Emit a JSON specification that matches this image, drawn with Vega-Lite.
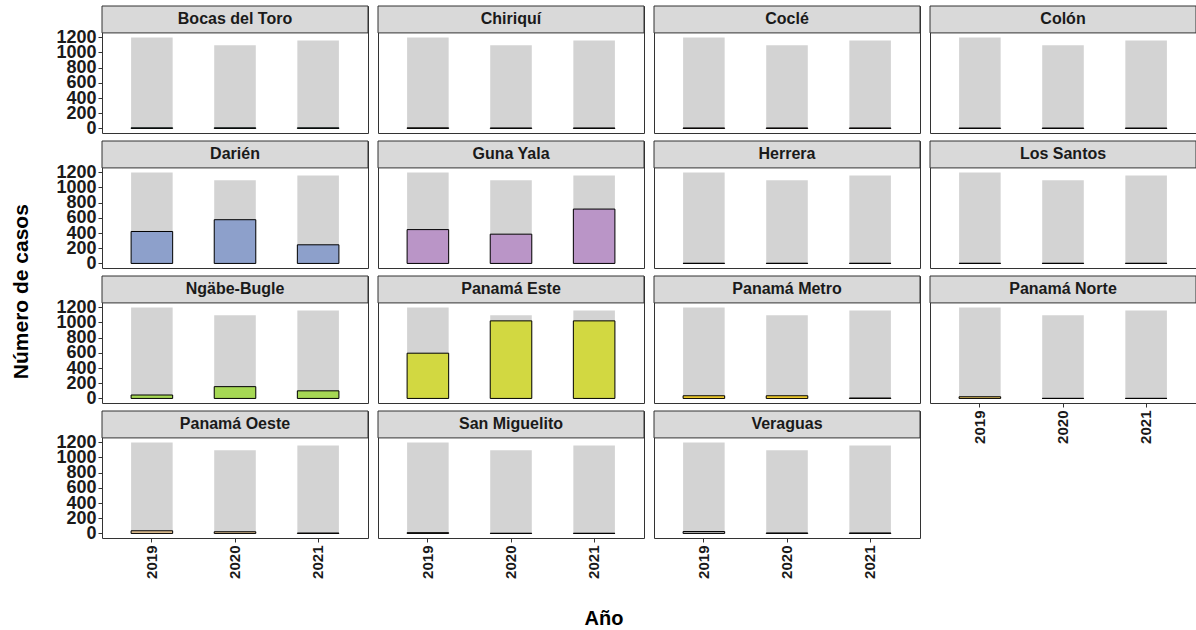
{
  "$schema": "https://vega.github.io/schema/vega-lite/v6.json",
  "background": "white",
  "padding": {"left": 10, "top": 5, "right": 3, "bottom": 3},
  "config": {"font": "Liberation Sans", "view": {"stroke": "#333333", "strokeWidth": 1}, "axis": {"labelOverlap": false, "labelBound": false}, "axisY": {"labelOverlap": false, "labelSeparation": -8}, "axisQuantitative": {"labelOverlap": false}},
  "datasets": {
    "d": [
      {"region": "Bocas del Toro", "year": "2019", "casos": 8, "total": 1195},
      {"region": "Bocas del Toro", "year": "2020", "casos": 8, "total": 1095},
      {"region": "Bocas del Toro", "year": "2021", "casos": 8, "total": 1157},
      {"region": "Chiriquí", "year": "2019", "casos": 8, "total": 1195},
      {"region": "Chiriquí", "year": "2020", "casos": 6, "total": 1095},
      {"region": "Chiriquí", "year": "2021", "casos": 6, "total": 1157},
      {"region": "Coclé", "year": "2019", "casos": 6, "total": 1195},
      {"region": "Coclé", "year": "2020", "casos": 6, "total": 1095},
      {"region": "Coclé", "year": "2021", "casos": 6, "total": 1157},
      {"region": "Colón", "year": "2019", "casos": 5, "total": 1195},
      {"region": "Colón", "year": "2020", "casos": 5, "total": 1095},
      {"region": "Colón", "year": "2021", "casos": 5, "total": 1157},
      {"region": "Darién", "year": "2019", "casos": 420, "total": 1195},
      {"region": "Darién", "year": "2020", "casos": 575, "total": 1095},
      {"region": "Darién", "year": "2021", "casos": 245, "total": 1157},
      {"region": "Guna Yala", "year": "2019", "casos": 445, "total": 1195},
      {"region": "Guna Yala", "year": "2020", "casos": 385, "total": 1095},
      {"region": "Guna Yala", "year": "2021", "casos": 715, "total": 1157},
      {"region": "Herrera", "year": "2019", "casos": 2, "total": 1195},
      {"region": "Herrera", "year": "2020", "casos": 2, "total": 1095},
      {"region": "Herrera", "year": "2021", "casos": 2, "total": 1157},
      {"region": "Los Santos", "year": "2019", "casos": 2, "total": 1195},
      {"region": "Los Santos", "year": "2020", "casos": 2, "total": 1095},
      {"region": "Los Santos", "year": "2021", "casos": 2, "total": 1157},
      {"region": "Ngäbe-Bugle", "year": "2019", "casos": 45, "total": 1195},
      {"region": "Ngäbe-Bugle", "year": "2020", "casos": 155, "total": 1095},
      {"region": "Ngäbe-Bugle", "year": "2021", "casos": 100, "total": 1157},
      {"region": "Panamá Este", "year": "2019", "casos": 595, "total": 1195},
      {"region": "Panamá Este", "year": "2020", "casos": 1020, "total": 1095},
      {"region": "Panamá Este", "year": "2021", "casos": 1020, "total": 1157},
      {"region": "Panamá Metro", "year": "2019", "casos": 35, "total": 1195},
      {"region": "Panamá Metro", "year": "2020", "casos": 35, "total": 1095},
      {"region": "Panamá Metro", "year": "2021", "casos": 5, "total": 1157},
      {"region": "Panamá Norte", "year": "2019", "casos": 22, "total": 1195},
      {"region": "Panamá Norte", "year": "2020", "casos": 1, "total": 1095},
      {"region": "Panamá Norte", "year": "2021", "casos": 1, "total": 1157},
      {"region": "Panamá Oeste", "year": "2019", "casos": 35, "total": 1195},
      {"region": "Panamá Oeste", "year": "2020", "casos": 22, "total": 1095},
      {"region": "Panamá Oeste", "year": "2021", "casos": 5, "total": 1157},
      {"region": "San Miguelito", "year": "2019", "casos": 10, "total": 1195},
      {"region": "San Miguelito", "year": "2020", "casos": 2, "total": 1095},
      {"region": "San Miguelito", "year": "2021", "casos": 2, "total": 1157},
      {"region": "Veraguas", "year": "2019", "casos": 25, "total": 1195},
      {"region": "Veraguas", "year": "2020", "casos": 6, "total": 1095},
      {"region": "Veraguas", "year": "2021", "casos": 6, "total": 1157}
    ]
  },
  "title": {"text": "Año", "orient": "bottom", "fontSize": 20, "fontWeight": "bold", "color": "#000000", "anchor": "middle", "offset": 31},
  "vconcat": [
    {
      "title": {"text": "Número de casos", "orient": "left", "fontSize": 21, "fontWeight": "bold", "color": "#000000", "anchor": "middle", "offset": 24},
      "spacing": 8,
      "hconcat": [
        {
          "data": {"name": "d"},
          "transform": [{"filter": {"field": "region", "oneOf": ["Bocas del Toro", "Darién", "Ngäbe-Bugle", "Panamá Oeste"]}}],
          "facet": {"row": {"field": "region", "type": "nominal", "sort": ["Bocas del Toro", "Darién", "Ngäbe-Bugle", "Panamá Oeste"], "header": {"title": null, "labels": false}}},
          "spacing": 8,
          "bounds": "flush",
          "spec": {
            "width": 266, "height": 127,
            "layer": [
              {"mark": {"type": "bar", "color": "#D3D3D3"},
               "encoding": {
                 "x": {"field": "year", "type": "ordinal", "title": null, "scale": {"paddingInner": 0.5, "paddingOuter": 0.35},
                       "axis": {"labelAngle": 270, "labelFontSize": 15, "labelFontWeight": "bold", "labelColor": "#1A1A1A", "domain": false, "tickSize": 4, "tickColor": "#333333", "labelPadding": 3}},
                 "y": {"field": "total", "type": "quantitative", "title": null, "scale": {"domain": [-60, 1610], "nice": false, "zero": false},
                       "axis": {"values": [0, 200, 400, 600, 800, 1000, 1200], "format": "d", "labelFontSize": 18, "labelFontWeight": "bold", "labelColor": "#1A1A1A", "domain": false, "grid": false, "tickSize": 4, "tickColor": "#333333", "labelPadding": 2, "labelOverlap": false, "labelSeparation": -8, "labelFlush": false, "labelBound": false}},
                 "y2": {"datum": 0}}},
              {"mark": {"type": "bar", "stroke": "#000000", "strokeWidth": 1},
               "encoding": {
                 "x": {"field": "year", "type": "ordinal", "title": null},
                 "y": {"field": "casos", "type": "quantitative", "title": null,
                       "axis": {"values": [0, 200, 400, 600, 800, 1000, 1200], "format": "d", "labelFontSize": 18, "labelFontWeight": "bold", "labelColor": "#1A1A1A", "domain": false, "grid": false, "tickSize": 4, "tickColor": "#333333", "labelPadding": 2, "labelOverlap": false, "labelSeparation": -8, "labelFlush": false, "labelBound": false}},
                 "y2": {"datum": 0},
                 "color": {"field": "region", "type": "nominal", "legend": null,
                   "scale": {"domain": ["Bocas del Toro", "Chiriquí", "Coclé", "Colón", "Darién", "Guna Yala", "Herrera", "Los Santos", "Ngäbe-Bugle", "Panamá Este", "Panamá Metro", "Panamá Norte", "Panamá Oeste", "San Miguelito", "Veraguas"],
                             "range": ["#66C2A5", "#B1A783", "#FC8D62", "#C49696", "#8DA0CB", "#BA95C7", "#E78AC3", "#C6B18C", "#A6D854", "#D2D841", "#FFD92F", "#F2CE61", "#E5C494", "#CCBBA3", "#B3B3B3"]}}}},
              {"transform": [{"filter": "datum.year == '2019'"}],
               "mark": {"type": "rect", "fill": "#D9D9D9", "stroke": "#333333", "strokeWidth": 1},
               "encoding": {"y": {"datum": 1256, "type": "quantitative", "title": null,
                       "axis": {"values": [0, 200, 400, 600, 800, 1000, 1200], "format": "d", "labelFontSize": 18, "labelFontWeight": "bold", "labelColor": "#1A1A1A", "domain": false, "grid": false, "tickSize": 4, "tickColor": "#333333", "labelPadding": 2, "labelOverlap": false, "labelSeparation": -8, "labelFlush": false, "labelBound": false}},
                 "y2": {"datum": 1610}}},
              {"transform": [{"filter": "datum.year == '2019'"}],
               "mark": {"type": "text", "fontSize": 16, "fontWeight": "bold", "color": "#1A1A1A", "baseline": "middle", "align": "center"},
               "encoding": {"y": {"datum": 1433, "type": "quantitative", "title": null,
                       "axis": {"values": [0, 200, 400, 600, 800, 1000, 1200], "format": "d", "labelFontSize": 18, "labelFontWeight": "bold", "labelColor": "#1A1A1A", "domain": false, "grid": false, "tickSize": 4, "tickColor": "#333333", "labelPadding": 2, "labelOverlap": false, "labelSeparation": -8, "labelFlush": false, "labelBound": false}},
                 "text": {"field": "region"}}}
            ]
          }
        },
        {
          "data": {"name": "d"},
          "transform": [{"filter": {"field": "region", "oneOf": ["Chiriquí", "Guna Yala", "Panamá Este", "San Miguelito"]}}],
          "facet": {"row": {"field": "region", "type": "nominal", "sort": ["Chiriquí", "Guna Yala", "Panamá Este", "San Miguelito"], "header": {"title": null, "labels": false}}},
          "spacing": 8,
          "bounds": "flush",
          "spec": {
            "width": 266, "height": 127,
            "layer": [
              {"mark": {"type": "bar", "color": "#D3D3D3"},
               "encoding": {
                 "x": {"field": "year", "type": "ordinal", "title": null, "scale": {"paddingInner": 0.5, "paddingOuter": 0.35},
                       "axis": {"labelAngle": 270, "labelFontSize": 15, "labelFontWeight": "bold", "labelColor": "#1A1A1A", "domain": false, "tickSize": 4, "tickColor": "#333333", "labelPadding": 3}},
                 "y": {"field": "total", "type": "quantitative", "title": null, "scale": {"domain": [-60, 1610], "nice": false, "zero": false}, "axis": null},
                 "y2": {"datum": 0}}},
              {"mark": {"type": "bar", "stroke": "#000000", "strokeWidth": 1},
               "encoding": {
                 "x": {"field": "year", "type": "ordinal", "title": null},
                 "y": {"field": "casos", "type": "quantitative", "title": null, "axis": null},
                 "y2": {"datum": 0},
                 "color": {"field": "region", "type": "nominal", "legend": null,
                   "scale": {"domain": ["Bocas del Toro", "Chiriquí", "Coclé", "Colón", "Darién", "Guna Yala", "Herrera", "Los Santos", "Ngäbe-Bugle", "Panamá Este", "Panamá Metro", "Panamá Norte", "Panamá Oeste", "San Miguelito", "Veraguas"],
                             "range": ["#66C2A5", "#B1A783", "#FC8D62", "#C49696", "#8DA0CB", "#BA95C7", "#E78AC3", "#C6B18C", "#A6D854", "#D2D841", "#FFD92F", "#F2CE61", "#E5C494", "#CCBBA3", "#B3B3B3"]}}}},
              {"transform": [{"filter": "datum.year == '2019'"}],
               "mark": {"type": "rect", "fill": "#D9D9D9", "stroke": "#333333", "strokeWidth": 1},
               "encoding": {"y": {"datum": 1256, "type": "quantitative", "title": null, "axis": null}, "y2": {"datum": 1610}}},
              {"transform": [{"filter": "datum.year == '2019'"}],
               "mark": {"type": "text", "fontSize": 16, "fontWeight": "bold", "color": "#1A1A1A", "baseline": "middle", "align": "center"},
               "encoding": {"y": {"datum": 1433, "type": "quantitative", "title": null, "axis": null}, "text": {"field": "region"}}}
            ]
          }
        },
        {
          "data": {"name": "d"},
          "transform": [{"filter": {"field": "region", "oneOf": ["Coclé", "Herrera", "Panamá Metro", "Veraguas"]}}],
          "facet": {"row": {"field": "region", "type": "nominal", "sort": ["Coclé", "Herrera", "Panamá Metro", "Veraguas"], "header": {"title": null, "labels": false}}},
          "spacing": 8,
          "bounds": "flush",
          "spec": {
            "width": 266, "height": 127,
            "layer": [
              {"mark": {"type": "bar", "color": "#D3D3D3"},
               "encoding": {
                 "x": {"field": "year", "type": "ordinal", "title": null, "scale": {"paddingInner": 0.5, "paddingOuter": 0.35},
                       "axis": {"labelAngle": 270, "labelFontSize": 15, "labelFontWeight": "bold", "labelColor": "#1A1A1A", "domain": false, "tickSize": 4, "tickColor": "#333333", "labelPadding": 3}},
                 "y": {"field": "total", "type": "quantitative", "title": null, "scale": {"domain": [-60, 1610], "nice": false, "zero": false}, "axis": null},
                 "y2": {"datum": 0}}},
              {"mark": {"type": "bar", "stroke": "#000000", "strokeWidth": 1},
               "encoding": {
                 "x": {"field": "year", "type": "ordinal", "title": null},
                 "y": {"field": "casos", "type": "quantitative", "title": null, "axis": null},
                 "y2": {"datum": 0},
                 "color": {"field": "region", "type": "nominal", "legend": null,
                   "scale": {"domain": ["Bocas del Toro", "Chiriquí", "Coclé", "Colón", "Darién", "Guna Yala", "Herrera", "Los Santos", "Ngäbe-Bugle", "Panamá Este", "Panamá Metro", "Panamá Norte", "Panamá Oeste", "San Miguelito", "Veraguas"],
                             "range": ["#66C2A5", "#B1A783", "#FC8D62", "#C49696", "#8DA0CB", "#BA95C7", "#E78AC3", "#C6B18C", "#A6D854", "#D2D841", "#FFD92F", "#F2CE61", "#E5C494", "#CCBBA3", "#B3B3B3"]}}}},
              {"transform": [{"filter": "datum.year == '2019'"}],
               "mark": {"type": "rect", "fill": "#D9D9D9", "stroke": "#333333", "strokeWidth": 1},
               "encoding": {"y": {"datum": 1256, "type": "quantitative", "title": null, "axis": null}, "y2": {"datum": 1610}}},
              {"transform": [{"filter": "datum.year == '2019'"}],
               "mark": {"type": "text", "fontSize": 16, "fontWeight": "bold", "color": "#1A1A1A", "baseline": "middle", "align": "center"},
               "encoding": {"y": {"datum": 1433, "type": "quantitative", "title": null, "axis": null}, "text": {"field": "region"}}}
            ]
          }
        },
        {
          "data": {"name": "d"},
          "transform": [{"filter": {"field": "region", "oneOf": ["Colón", "Los Santos", "Panamá Norte"]}}],
          "facet": {"row": {"field": "region", "type": "nominal", "sort": ["Colón", "Los Santos", "Panamá Norte"], "header": {"title": null, "labels": false}}},
          "spacing": 8,
          "bounds": "flush",
          "spec": {
            "width": 266, "height": 127,
            "layer": [
              {"mark": {"type": "bar", "color": "#D3D3D3"},
               "encoding": {
                 "x": {"field": "year", "type": "ordinal", "title": null, "scale": {"paddingInner": 0.5, "paddingOuter": 0.35},
                       "axis": {"labelAngle": 270, "labelFontSize": 15, "labelFontWeight": "bold", "labelColor": "#1A1A1A", "domain": false, "tickSize": 4, "tickColor": "#333333", "labelPadding": 3}},
                 "y": {"field": "total", "type": "quantitative", "title": null, "scale": {"domain": [-60, 1610], "nice": false, "zero": false}, "axis": null},
                 "y2": {"datum": 0}}},
              {"mark": {"type": "bar", "stroke": "#000000", "strokeWidth": 1},
               "encoding": {
                 "x": {"field": "year", "type": "ordinal", "title": null},
                 "y": {"field": "casos", "type": "quantitative", "title": null, "axis": null},
                 "y2": {"datum": 0},
                 "color": {"field": "region", "type": "nominal", "legend": null,
                   "scale": {"domain": ["Bocas del Toro", "Chiriquí", "Coclé", "Colón", "Darién", "Guna Yala", "Herrera", "Los Santos", "Ngäbe-Bugle", "Panamá Este", "Panamá Metro", "Panamá Norte", "Panamá Oeste", "San Miguelito", "Veraguas"],
                             "range": ["#66C2A5", "#B1A783", "#FC8D62", "#C49696", "#8DA0CB", "#BA95C7", "#E78AC3", "#C6B18C", "#A6D854", "#D2D841", "#FFD92F", "#F2CE61", "#E5C494", "#CCBBA3", "#B3B3B3"]}}}},
              {"transform": [{"filter": "datum.year == '2019'"}],
               "mark": {"type": "rect", "fill": "#D9D9D9", "stroke": "#333333", "strokeWidth": 1},
               "encoding": {"y": {"datum": 1256, "type": "quantitative", "title": null, "axis": null}, "y2": {"datum": 1610}}},
              {"transform": [{"filter": "datum.year == '2019'"}],
               "mark": {"type": "text", "fontSize": 16, "fontWeight": "bold", "color": "#1A1A1A", "baseline": "middle", "align": "center"},
               "encoding": {"y": {"datum": 1433, "type": "quantitative", "title": null, "axis": null}, "text": {"field": "region"}}}
            ]
          }
        }
      ]
    }
  ]
}
